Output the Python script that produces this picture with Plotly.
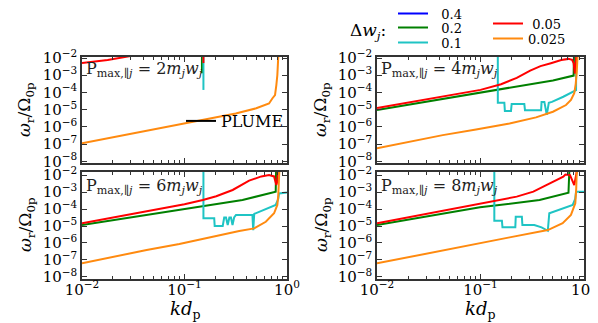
import plotly.graph_objects as go

# ---------------- data ----------------
# Panel P_max = 2 m_j w_j (top-left)
p2_green_kd = [0.148, 0.148]
p2_green_w = [1.3e-3, 1.6e-2]
p2_cyan_kd = [0.153, 0.153]
p2_cyan_w = [1.4e-4, 1.6e-2]
p2_red_kd = [0.0100, 0.0178, 0.0316, None, 0.153, 0.153]
p2_red_w = [5.1e-3, 7.6e-3, 1.4e-2, None, 5.1e-3, 1.6e-2]
p2_orange_kd = [0.0100, 0.0316, 0.100, 0.316, 0.501, 0.668, 0.719, 0.764, 0.787, 0.805, 0.824]
p2_orange_w = [1.10e-7, 4.17e-7, 1.66e-6, 6.03e-6, 1.20e-5, 2.29e-5, 4.47e-5, 7.08e-5, 2.69e-4, 1.02e-3, 1.58e-2]

# Panel P_max = 4 m_j w_j (top-right)
p4_green_kd = [0.0100, 0.0316, 0.100, 0.251, 0.501, 0.794, 0.800]
p4_green_w = [9.55e-6, 3.02e-5, 9.55e-5, 2.40e-4, 5.01e-4, 9.55e-4, 1.58e-2]
p4_cyan_kd = [0.147, 0.147, 0.170, 0.172, 0.197, 0.200, 0.265, 0.269, 0.385, 0.389, 0.414, 0.437, 0.457,
              0.490, 0.631, 0.794, 0.838, 0.841]
p4_cyan_w = [1.58e-2, 2.51e-5, 2.51e-5, 8.32e-6, 8.32e-6, 2.14e-5, 2.14e-5, 9.33e-6, 9.33e-6, 2.82e-5,
             2.82e-5, 5.01e-6, 2.51e-5, 2.82e-5, 5.62e-5, 1.10e-4, 1.38e-4, 1.58e-2]
p4_red_kd = [0.0100, 0.0316, 0.100, 0.158, 0.224, 0.302, 0.380, 0.479, 0.603, 0.708, 0.767, 0.794, 0.817,
             0.832, 0.841]
p4_red_w = [1.26e-5, 4.17e-5, 1.41e-4, 3.02e-4, 7.08e-4, 1.86e-3, 3.39e-3, 5.01e-3, 7.59e-3, 8.91e-3,
            7.94e-3, 5.01e-3, 1.26e-3, 3.16e-3, 1.58e-2]
p4_orange_kd = [0.0100, 0.0204, 0.0432, 0.0906, 0.191, 0.344, 0.501, 0.670, 0.748, 0.805, 0.832, 0.851, 0.867]
p4_orange_w = [5.62e-8, 1.35e-7, 3.31e-7, 7.08e-7, 1.58e-6, 3.55e-6, 7.59e-6, 1.86e-5, 3.63e-5, 8.91e-5,
               3.16e-4, 1.58e-3, 1.58e-2]

# Panel P_max = 6 m_j w_j (bottom-left)
p6_green_kd = [0.0100, 0.100, 0.368, 0.776, 0.782]
p6_green_w = [1.15e-5, 1.00e-4, 3.39e-4, 1.05e-3, 1.58e-2]
p6_cyan_kd = [0.153, 0.153, 0.195, 0.197, 0.236, 0.244, 0.254, 0.264, 0.274, 0.284, 0.294, 0.305, 0.318,
              0.460, 0.468, 0.479, 0.776, 0.822, 0.836, 1.0]
p6_cyan_w = [1.58e-2, 2.82e-5, 2.82e-5, 1.0e-5, 1.0e-5, 3.16e-5, 3.16e-5, 1.15e-5, 3.16e-5, 3.16e-5,
             1.15e-5, 3.16e-5, 4.47e-5, 4.47e-5, 5.75e-6, 5.13e-5, 1.74e-4, 3.98e-4, 8.32e-4, 9.55e-4]
p6_red_kd = [0.0100, 0.0316, 0.100, 0.151, 0.204, 0.295, 0.427, 0.562, 0.668, 0.748, 0.787, 0.804, 0.813]
p6_red_w = [1.45e-5, 5.37e-5, 1.91e-4, 3.39e-4, 5.62e-4, 1.32e-3, 4.68e-3, 8.32e-3, 1.00e-2, 8.32e-3,
            2.57e-3, 3.98e-3, 1.58e-2]
p6_orange_kd = [0.0100, 0.0200, 0.0427, 0.0891, 0.188, 0.342, 0.479, 0.621, 0.748, 0.805, 0.822, 0.832, 0.841]
p6_orange_w = [6.31e-8, 1.58e-7, 3.89e-7, 8.71e-7, 2.34e-6, 5.13e-6, 7.24e-6, 1.78e-5, 5.62e-5, 1.74e-4,
               6.31e-4, 2.51e-3, 1.58e-2]

# Panel P_max = 8 m_j w_j (bottom-right)
p8_green_kd = [0.0100, 0.0989, 0.372, 0.708, 0.721]
p8_green_w = [1.15e-5, 1.26e-4, 3.39e-4, 9.12e-4, 1.58e-2]
p8_cyan_kd = [0.136, 0.136, 0.161, 0.163, 0.217, 0.219, 0.251, 0.254, 0.331, 0.389, 0.447, 0.462, 0.778,
              0.822, 0.838, 1.0]
p8_cyan_w = [1.58e-2, 2.04e-5, 2.04e-5, 8.32e-6, 8.32e-6, 3.55e-5, 3.55e-5, 1.15e-5, 1.15e-5, 8.32e-6,
             5.25e-6, 5.62e-5, 1.74e-4, 3.98e-4, 1.05e-3, 1.05e-3]
p8_red_kd = [0.0100, 0.0316, 0.0989, 0.141, 0.224, 0.324, 0.468, 0.631, 0.661, 0.733, 0.805, 0.838, 0.851]
p8_red_w = [1.45e-5, 5.62e-5, 2.14e-4, 3.39e-4, 5.37e-4, 1.05e-3, 3.24e-3, 7.94e-3, 1.07e-2, 1.00e-2,
            2.57e-3, 8.71e-3, 1.58e-2]
p8_orange_kd = [0.0100, 0.0316, 0.0906, 0.191, 0.447, 0.622, 0.748, 0.824, 0.841, 0.851]
p8_orange_w = [6.31e-8, 2.51e-7, 9.55e-7, 2.14e-6, 5.75e-6, 1.45e-5, 4.47e-5, 2.14e-4, 1.58e-3, 1.58e-2]

dw_labels = ["0.4", "0.2", "0.1", "0.05", "0.025"]
pmax_factors = ["2", "4", "6", "8"]
y_tickvals = [1e-8, 1e-7, 1e-6, 1e-5, 1e-4, 1e-3, 1e-2]
y_ticktext = ["10<sup>\u22128</sup>", "10<sup>\u22127</sup>", "10<sup>\u22126</sup>", "10<sup>\u22125</sup>",
              "10<sup>\u22124</sup>", "10<sup>\u22123</sup>", "10<sup>\u22122</sup>"]
x_tickvals = [0.01, 0.1, 1.0]
x_ticktext = ["10<sup>\u22122</sup>", "10<sup>\u22121</sup>", "10<sup>0</sup>"]
x_minor = [0.02, 0.03, 0.04, 0.05, 0.06, 0.07, 0.08, 0.09, 0.2, 0.3, 0.4, 0.5, 0.6, 0.7, 0.8, 0.9]

# ---------------- styling ----------------
# The page body adds an 8 px offset, so the figure is 590x315 and placed at (8, 8).
OFF = 8
FW, FH = 598 - OFF, 323 - OFF


def px(p):
    return (p - OFF) / FW


def py(p):
    return 1 - (p - OFF) / FH


FONT = "DejaVu Serif"
colors = {"0.4": "#0000ff", "0.2": "#008000", "0.1": "#1fc4c4", "0.05": "#ff0000", "0.025": "#ff8a0f"}
legend_ids = {"0.4": "legend", "0.2": "legend2", "0.1": "legend3", "0.05": "legend4", "0.025": "legend5"}
legend_names = {"0.4": "\u00a0\u00a00.4", "0.2": "\u00a0\u00a00.2", "0.1": "\u00a0\u00a00.1",
                "0.05": "\u00a00.05", "0.025": "0.025"}

panels = [
    {"ax": "", "green": (p2_green_kd, p2_green_w), "cyan": (p2_cyan_kd, p2_cyan_w),
     "red": (p2_red_kd, p2_red_w), "orange": (p2_orange_kd, p2_orange_w)},
    {"ax": "2", "green": (p4_green_kd, p4_green_w), "cyan": (p4_cyan_kd, p4_cyan_w),
     "red": (p4_red_kd, p4_red_w), "orange": (p4_orange_kd, p4_orange_w)},
    {"ax": "3", "green": (p6_green_kd, p6_green_w), "cyan": (p6_cyan_kd, p6_cyan_w),
     "red": (p6_red_kd, p6_red_w), "orange": (p6_orange_kd, p6_orange_w)},
    {"ax": "4", "green": (p8_green_kd, p8_green_w), "cyan": (p8_cyan_kd, p8_cyan_w),
     "red": (p8_red_kd, p8_red_w), "orange": (p8_orange_kd, p8_orange_w)},
]
series_keys = [("0.4", None), ("0.2", "green"), ("0.1", "cyan"), ("0.05", "red"), ("0.025", "orange")]

fig = go.Figure()
for pi, p in enumerate(panels):
    xa, ya = "x" + p["ax"], "y" + p["ax"]
    for lab, key in series_keys:
        if key is None:
            xs, ys = [None], [None]
        else:
            xs, ys = p[key]
        fig.add_trace(go.Scatter(
            x=xs, y=ys, mode="lines", xaxis=xa, yaxis=ya,
            line=dict(color=colors[lab], width=2),
            name=legend_names[lab], legend=legend_ids[lab],
            showlegend=(pi == 1), cliponaxis=True, hoverinfo="skip"))
# PLUME legend entry (top-left panel)
fig.add_trace(go.Scatter(x=[None], y=[None], mode="lines", xaxis="x", yaxis="y",
                         line=dict(color="black", width=2), name="PLUME", legend="legend6",
                         showlegend=True))

# axes geometry (reference pixel positions)
xdom = {"L": [px(82), px(287)], "R": [px(377), px(584)]}
ydom = {"T": [py(163), py(57)], "B": [py(279), py(172)]}
yrng = {"T": [-8.10, -1.94], "B": [-8.12, -1.82]}
layout_pos = {"": ("L", "T"), "2": ("R", "T"), "3": ("L", "B"), "4": ("R", "B")}

axis_common = dict(type="log", showgrid=False, zeroline=False, showline=True, linecolor="#333333",
                   linewidth=1.5, mirror="ticks", ticks="inside", tickcolor="#333333",
                   automargin=False,
                   tickfont=dict(family=FONT, size=15, color="black"))
layout = {}
for ax, (cx, ry) in layout_pos.items():
    layout["xaxis" + ax] = dict(axis_common, domain=xdom[cx], range=[-2, 0], anchor="y" + ax,
                                tickvals=x_tickvals, ticktext=x_ticktext, ticklen=5,
                                showticklabels=(ry == "B"), ticklabelstandoff=-4,
                                minor=dict(tickvals=x_minor, ticks="inside", ticklen=3,
                                           tickcolor="#333333", showgrid=False))
    layout["yaxis" + ax] = dict(axis_common, domain=ydom[ry], range=yrng[ry], anchor="x" + ax,
                                tickvals=y_tickvals, ticktext=y_ticktext, ticklen=5)

leg_common = dict(bgcolor="rgba(0,0,0,0)", borderwidth=0, itemwidth=30, xanchor="left", yanchor="middle",
                  font=dict(family=FONT, size=13, color="black"), orientation="v")
legend_rows = {"legend": (393, 13.5), "legend2": (393, 27.5), "legend3": (393, 42.5),
               "legend4": (488, 23.5), "legend5": (488, 38.5)}
for lid, (lx, ly) in legend_rows.items():
    layout[lid] = dict(leg_common, x=px(lx), y=py(ly))
layout["legend6"] = dict(leg_common, x=px(181), y=py(121), font=dict(family=FONT, size=16, color="black"))

annotations = []
panel_text_pos = [(84, 70), (379, 70), (84, 186), (379, 186)]
for (tx, ty), fac in zip(panel_text_pos, pmax_factors):
    annotations.append(dict(
        text="P<sub>max,\u2225<i>j</i></sub> = " + fac + "<i>m<sub>j</sub>w<sub>j</sub></i>",
        x=px(tx), y=py(ty), xref="paper", yref="paper", xanchor="left", yanchor="middle",
        showarrow=False, font=dict(family=FONT, size=16, color="#222222")))
for (tx, ty) in [(26, 110), (322, 110), (26, 225), (322, 225)]:
    annotations.append(dict(
        text="<i>\u03c9</i><sub>r</sub>/\u03a9<sub>0p</sub>", textangle=-90,
        x=px(tx), y=py(ty), xref="paper", yref="paper", xanchor="center", yanchor="middle",
        showarrow=False, font=dict(family=FONT, size=17, color="black")))
for tx in [185, 480]:
    annotations.append(dict(
        text="<i>kd</i><sub>p</sub>", x=px(tx), y=py(310), xref="paper", yref="paper",
        xanchor="center", yanchor="middle", showarrow=False, font=dict(family=FONT, size=18, color="black")))
annotations.append(dict(
    text="\u0394<i>w<sub>j</sub></i>:", x=px(368), y=py(32), xref="paper", yref="paper",
    xanchor="center", yanchor="middle", showarrow=False, font=dict(family=FONT, size=17, color="black")))

fig.update_layout(width=FW, height=FH, margin=dict(l=0, r=0, t=0, b=0, autoexpand=False),
                  paper_bgcolor="white", plot_bgcolor="white", annotations=annotations, **layout)
fig.write_html("out.html")
